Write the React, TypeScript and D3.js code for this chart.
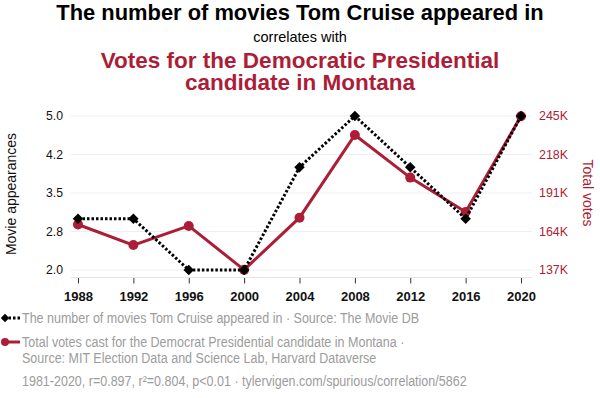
import React, { useEffect, useRef } from 'react';
import * as d3 from 'd3';

const years = [1988, 1992, 1996, 2000, 2004, 2008, 2012, 2016, 2020];
const movies = [3, 3, 2, 2, 4, 5, 4, 3, 5];
// votes in thousands
const votes = [168.9, 154.5, 167.9, 137.1, 173.7, 231.7, 201.8, 177.7, 244.8];
const leftTicks = [2, 2.75, 3.5, 4.25, 5];
const leftTickLabels = ['2.0', '2.8', '3.5', '4.2', '5.0'];
const rightTicks = [137, 164, 191, 218, 245];

const RED = '#ac1d37';
const FONT = '"Liberation Sans", Arial, Helvetica, sans-serif';

export default function App() {
  const ref = useRef<SVGSVGElement>(null);

  useEffect(() => {
    if (!ref.current) return;
    const svg = d3.select(ref.current);
    svg.selectAll('*').remove();

    const x = d3.scaleLinear().domain([1988, 2020]).range([78, 521]);
    const yL = d3.scaleLinear().domain([2, 5]).range([270, 116]);
    const yR = d3.scaleLinear().domain([137, 245]).range([270, 116]);

    // titles
    svg.append('text').attr('x', 300).attr('y', 20).attr('text-anchor', 'middle')
      .style('font', `bold 21.9px ${FONT}`).attr('fill', '#000')
      .text('The number of movies Tom Cruise appeared in');
    svg.append('text').attr('x', 300).attr('y', 42).attr('text-anchor', 'middle')
      .style('font', `14.5px ${FONT}`).attr('fill', '#000').text('correlates with');
    svg.append('text').attr('x', 300).attr('y', 67.5).attr('text-anchor', 'middle')
      .style('font', `bold 22.5px ${FONT}`).attr('fill', RED)
      .text('Votes for the Democratic Presidential');
    svg.append('text').attr('x', 300).attr('y', 89.5).attr('text-anchor', 'middle')
      .style('font', `bold 22.5px ${FONT}`).attr('fill', RED)
      .text('candidate in Montana');

    // grid
    svg.append('g').selectAll('line').data(leftTicks).enter().append('line')
      .attr('x1', 71).attr('x2', 532)
      .attr('y1', d => yL(d)).attr('y2', d => yL(d))
      .attr('stroke', '#eeeeee').attr('stroke-width', 1);

    // x axis
    const gx = svg.append('g').attr('transform', 'translate(0,277.5)')
      .call(d3.axisBottom(x).tickValues(years).tickFormat(d3.format('d')).tickSize(6).tickSizeOuter(0));
    gx.select('.domain').remove();
    gx.selectAll('line').attr('stroke', '#333');
    gx.selectAll('text').style('font', `bold 13px ${FONT}`).attr('fill', '#111').attr('dy', '1.1em');
    svg.append('line').attr('x1', 71).attr('x2', 532).attr('y1', 277.5).attr('y2', 277.5).attr('stroke', '#e6e6e6');

    // left axis
    const gl = svg.append('g').attr('transform', 'translate(66,0)')
      .call(d3.axisLeft(yL).tickValues(leftTicks).tickFormat((_, i) => leftTickLabels[i]).tickSize(0));
    gl.select('.domain').remove();
    gl.selectAll('text').style('font', `12.2px ${FONT}`).attr('fill', '#111');

    // right axis
    const gr = svg.append('g').attr('transform', 'translate(536,0)')
      .call(d3.axisRight(yR).tickValues(rightTicks).tickFormat(d => `${d}K`).tickSize(0));
    gr.select('.domain').remove();
    gr.selectAll('text').style('font', `12.4px ${FONT}`).attr('fill', RED);

    svg.append('text').attr('transform', 'translate(16,194) rotate(-90)').attr('text-anchor', 'middle')
      .style('font', `14px ${FONT}`).attr('fill', '#111').text('Movie appearances');
    svg.append('text').attr('transform', 'translate(583,193) rotate(90)').attr('text-anchor', 'middle')
      .style('font', `14px ${FONT}`).attr('fill', RED).text('Total votes');

    // red series
    const lineR = d3.line<number>().x((_, i) => x(years[i])).y(d => yR(d));
    svg.append('path').datum(votes).attr('d', lineR).attr('fill', 'none')
      .attr('stroke', RED).attr('stroke-width', 3);
    svg.append('g').selectAll('circle').data(votes).enter().append('circle')
      .attr('cx', (_, i) => x(years[i])).attr('cy', d => yR(d)).attr('r', 5).attr('fill', RED);

    // black series
    const lineL = d3.line<number>().x((_, i) => x(years[i])).y(d => yL(d));
    svg.append('path').datum(movies).attr('d', lineL).attr('fill', 'none')
      .attr('stroke', '#000').attr('stroke-width', 3).attr('stroke-dasharray', '2.5,2');
    const diamond = d3.symbol().type(d3.symbolDiamond2).size(70);
    svg.append('g').selectAll('path').data(movies).enter().append('path')
      .attr('d', diamond())
      .attr('transform', (d, i) => `translate(${x(years[i])},${yL(d)})`)
      .attr('fill', '#000');

    // legend (narrow text: no condensed font installed, so squeeze horizontally)
    const LG = '#9c9c9c';
    const lg = svg.append('g');
    lg.append('line').attr('x1', 4).attr('x2', 20).attr('y1', 318).attr('y2', 318)
      .attr('stroke', '#000').attr('stroke-width', 3).attr('stroke-dasharray', '2.5,2');
    lg.append('path').attr('d', d3.symbol().type(d3.symbolDiamond2).size(45)()).attr('transform', 'translate(5,318)').attr('fill', '#000');
    lg.append('line').attr('x1', 4).attr('x2', 20).attr('y1', 342).attr('y2', 342)
      .attr('stroke', RED).attr('stroke-width', 3);
    lg.append('circle').attr('cx', 5).attr('cy', 342).attr('r', 4).attr('fill', RED);

    const legendLines: [string, number][] = [
      ['The number of movies Tom Cruise appeared in · Source: The Movie DB', 323],
      ['Total votes cast for the Democrat Presidential candidate in Montana ·', 347],
      ['Source: MIT Election Data and Science Lab, Harvard Dataverse', 363],
      ['1981-2020, r=0.897, r²=0.804, p<0.01 · tylervigen.com/spurious/correlation/5862', 386],
    ];
    legendLines.forEach(([t, yy]) => {
      lg.append('text').attr('transform', `translate(22,${yy}) scale(0.835,1)`)
        .style('font', `15px ${FONT}`).attr('fill', LG).text(t);
    });
  }, []);

  return (
    <svg ref={ref} width={600} height={398}
      style={{ position: 'absolute', left: 0, top: 0, background: '#fff' }} />
  );
}
